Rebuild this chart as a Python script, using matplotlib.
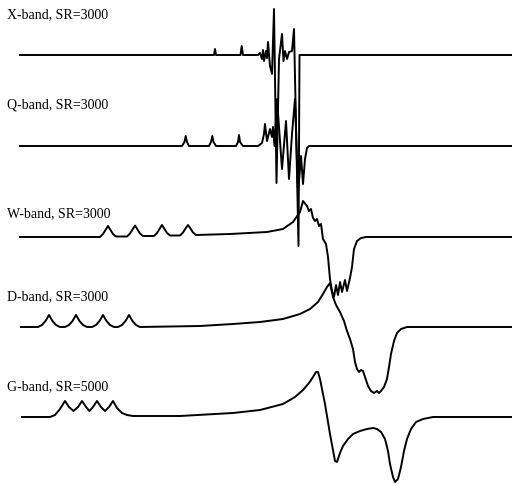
import matplotlib
matplotlib.use("Agg")
import matplotlib.pyplot as plt

# field axis (arb. units) and derivative signal for each band
x_X = [20, 214, 215, 216, 240.5, 241.7, 243, 258, 260, 262,
       263, 264, 266, 267, 268, 270, 272, 274, 276.5, 279,
       282, 283.5, 285, 287, 289, 292, 294, 298.5, 299.5, 512]
s_X = [0, 0, 6, 0, 0, 9, 0, 0, 2, -4,
       5, -6, 4, -3, 13, -11, -19, 46, -128, -4,
       21, -6, 4, -4, 3, 4, 26, -191, 0, 0]

x_Q = [20, 182, 184.5, 185.7, 187, 189, 209, 211, 212.3, 213.5,
       216, 236, 238, 239, 240, 243, 258, 262, 264, 265,
       267, 270, 272, 273, 274.5, 277, 282, 286, 289, 292,
       295, 298, 301, 303, 305, 307, 309, 512]
s_Q = [0, 0, 4, 10, 4, 0, 0, 4, 10, 4,
       0, 0, 4, 11, 4, 0, 0, 3, 12, 22,
       5, 17, 9, 19, 0, 47, -23, 25, -33, 12,
       47, -48, -10, -38, -13, -2, 0, 0]

x_W = [20, 100, 103, 105.5, 108, 110.5, 113, 116, 127, 130, 132.5, 135, 137.5, 140, 143,
       154, 157, 159.5, 162, 164.5, 167, 170, 180, 183, 185.5, 188, 190.5, 193, 196,
       230, 267, 283, 293, 300, 303,
       307, 309, 311, 313, 315, 317, 319, 321, 323, 326, 328, 330, 332, 334,
       336, 338, 340, 342, 345, 347, 350, 352, 354, 357, 361, 366, 512]
s_W = [0, 0, 3, 7, 11, 7, 3, 0.5, 0.5, 3.5, 7.5, 11.5, 7.5, 3.5, 1,
       1, 4, 8, 12, 8, 4, 1.5, 1.5, 4.5, 8.5, 12, 8.5, 4.5, 2,
       3, 5, 8, 15, 25, 36,
       31, 26, 28, 19, 16, 18, 11, 13, -2, -7, -20, -42, -54, -60,
       -48, -58, -45, -55, -43, -54, -41, -30, -12, -4, -1, 0, 0]

x_D = [21, 38, 42, 45.5, 49, 52.5, 56, 60, 65, 69, 72.5, 76, 79.5, 83, 87,
       92, 96, 99.5, 103, 106.5, 110, 114, 118, 122, 125.5, 129, 132.5, 136, 140,
       200, 233, 260, 283, 300, 310, 318, 323, 327, 330,
       333, 336, 340, 344, 347, 350, 353, 355, 357, 359,
       361, 363, 365, 368, 371, 374, 377, 379, 381, 384,
       387, 389, 391, 394, 397, 401, 407, 512]
s_D = [0, 0, 2, 6, 12, 6, 2, 0, 0, 2, 6, 12, 6, 2, 0,
       0, 2, 6, 12, 6, 2, 0, 0, 2, 6, 12, 6, 2, 0,
       1, 3, 5, 8, 13, 18, 25, 33, 40, 44,
       30, 22, 15, 6, -4, -12, -22, -35, -42, -45,
       -43, -44, -50, -59, -64, -66, -64, -66, -64, -60,
       -52, -40, -27, -14, -6, -2, 0, 0]

x_G = [22, 50, 55, 60, 65, 69, 73.5, 78, 82, 86,
       89.5, 93, 97, 101, 105, 109, 113, 117, 122, 127,
       133, 180, 233, 260, 283, 295, 303, 309, 313, 316,
       318, 320, 325, 330, 335, 337, 340, 343, 348, 353,
       360, 367, 373, 377, 381, 385, 388, 390, 393, 395,
       398, 401, 404, 407, 411, 416, 423, 433, 512]
s_G = [0, 0, 2, 8, 16, 10, 6, 10, 16, 10,
       6, 10, 16, 10, 6, 10, 16, 9, 4, 2,
       1, 1, 4, 7, 13, 20, 27, 34, 40, 45,
       45, 38, 13, -17, -44, -45, -36, -29, -22, -17,
       -14, -12, -11, -12, -15, -22, -34, -47, -60, -65,
       -62, -50, -34, -22, -12, -5, -2, 0, 0]

labels = ["X-band, SR=3000", "Q-band, SR=3000", "W-band, SR=3000",
          "D-band, SR=3000", "G-band, SR=5000"]

# layout: baseline of each trace and label height (figure pixels from top)
baselines = [56, 147, 238, 328, 418]
label_y = [15, 105, 214, 297, 387]

fig = plt.figure(figsize=(5.12, 4.85), dpi=100)
ax = fig.add_axes([0, 0, 1, 1])
ax.set_xlim(0, 512)
ax.set_ylim(485, 0)
ax.axis('off')

traces = [(x_X, s_X), (x_Q, s_Q), (x_W, s_W), (x_D, s_D), (x_G, s_G)]
for (xs, sig), b, lab, ly in zip(traces, baselines, labels, label_y):
    ax.plot(xs, [b - v for v in sig], color='black', lw=1.4,
            solid_joinstyle='round')
    ax.text(7, ly, lab, fontsize=10, family='Liberation Serif',
            va='center', ha='left')

fig.savefig('out.png', dpi=100)
